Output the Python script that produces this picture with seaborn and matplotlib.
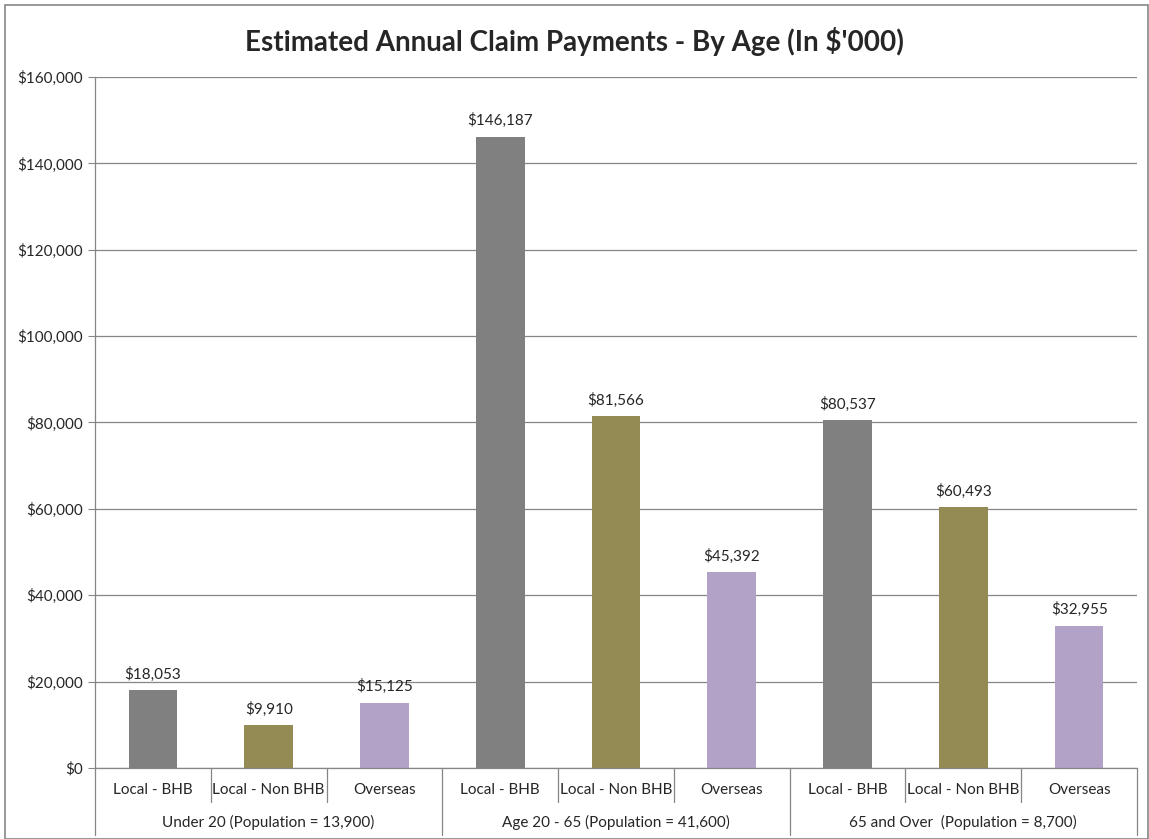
import matplotlib
matplotlib.use('Agg')
import matplotlib.pyplot as plt
import matplotlib.patches as mpatches
import matplotlib.transforms as mtransforms
import seaborn as sns
import pandas as pd
import numpy as np

groups = ['Under 20 (Population = 13,900)', 'Age 20 - 65 (Population = 41,600)',
          '65 and Over  (Population = 8,700)']
types = ['Local - BHB', 'Local - Non BHB', 'Overseas']
local_bhb = [18053, 146187, 80537]
local_non_bhb = [9910, 81566, 60493]
overseas = [15125, 45392, 32955]
palette = {'Local - BHB': '#808080', 'Local - Non BHB': '#948A54', 'Overseas': '#B3A2C7'}

rows = []
for gi, g in enumerate(groups):
    for ti, (t, vals) in enumerate(zip(types, [local_bhb, local_non_bhb, overseas])):
        rows.append({'slot': str(gi * 3 + ti), 'group': g, 'type': t, 'value': vals[gi]})
df = pd.DataFrame(rows)

sns.set_style('white')
plt.rcParams['font.family'] = ['Lato', 'DejaVu Sans']

fig = plt.figure(figsize=(11.49, 8.39), dpi=100)
ax = fig.add_axes([95 / 1149, 1 - 768 / 839, (1137 - 95) / 1149, (768 - 77) / 839])
sns.barplot(data=df, x='slot', y='value', hue='type', dodge=False, palette=palette,
            width=0.42, legend=False, ax=ax, saturation=1, linewidth=0)

ax.set_ylim(0, 160000)
ax.set_xlim(-0.5, 8.5)
ax.set_yticks(np.arange(0, 160001, 20000))
ax.set_yticklabels([f'${v:,.0f}' for v in np.arange(0, 160001, 20000)], fontsize=11)
ax.yaxis.grid(True, color='#868686', linewidth=0.9)
ax.set_axisbelow(True)
ax.tick_params(axis='y', length=5, color='#868686', left=True, pad=4)
ax.tick_params(axis='x', length=0)
ax.set_xticks(range(9))
ax.set_xticklabels([])
ax.set_xlabel('')
ax.set_ylabel('')
for s in ['top', 'right']:
    ax.spines[s].set_visible(False)
for s in ['left', 'bottom']:
    ax.spines[s].set_color('#868686')
    ax.spines[s].set_linewidth(0.9)

for c in ax.containers:
    ax.bar_label(c, labels=[f'${v:,.0f}' if v > 0 else '' for v in c.datavalues],
                 padding=6, fontsize=11)

# two-level category axis
trans = mtransforms.blended_transform_factory(ax.transData, ax.transAxes)
h = 768 - 77
for i in range(9):
    ax.text(i, -22 / h, types[i % 3], transform=trans, ha='center', va='center', fontsize=11)
for gi, g in enumerate(groups):
    ax.text(gi * 3 + 1, -54 / h, g, transform=trans, ha='center', va='center', fontsize=11)
for b in np.arange(-0.5, 9, 1):
    is_group = (b + 0.5) % 3 == 0
    bottom = -67 / h if is_group else -34 / h
    ax.plot([b, b], [0, bottom], transform=trans, color='#868686', lw=0.9, clip_on=False)

fig.text(0.5, 1 - 42 / 839, "Estimated Annual Claim Payments - By Age (In $'000)",
         ha='center', va='center', fontsize=20, fontweight='bold')
fig.patches.append(mpatches.Rectangle((5 / 1149, 0), 1143 / 1149, 1 - 5 / 839, transform=fig.transFigure,
                                      fill=False, edgecolor='#868686', linewidth=1.2))

plt.savefig('out.png', dpi=100)
plt.close()
